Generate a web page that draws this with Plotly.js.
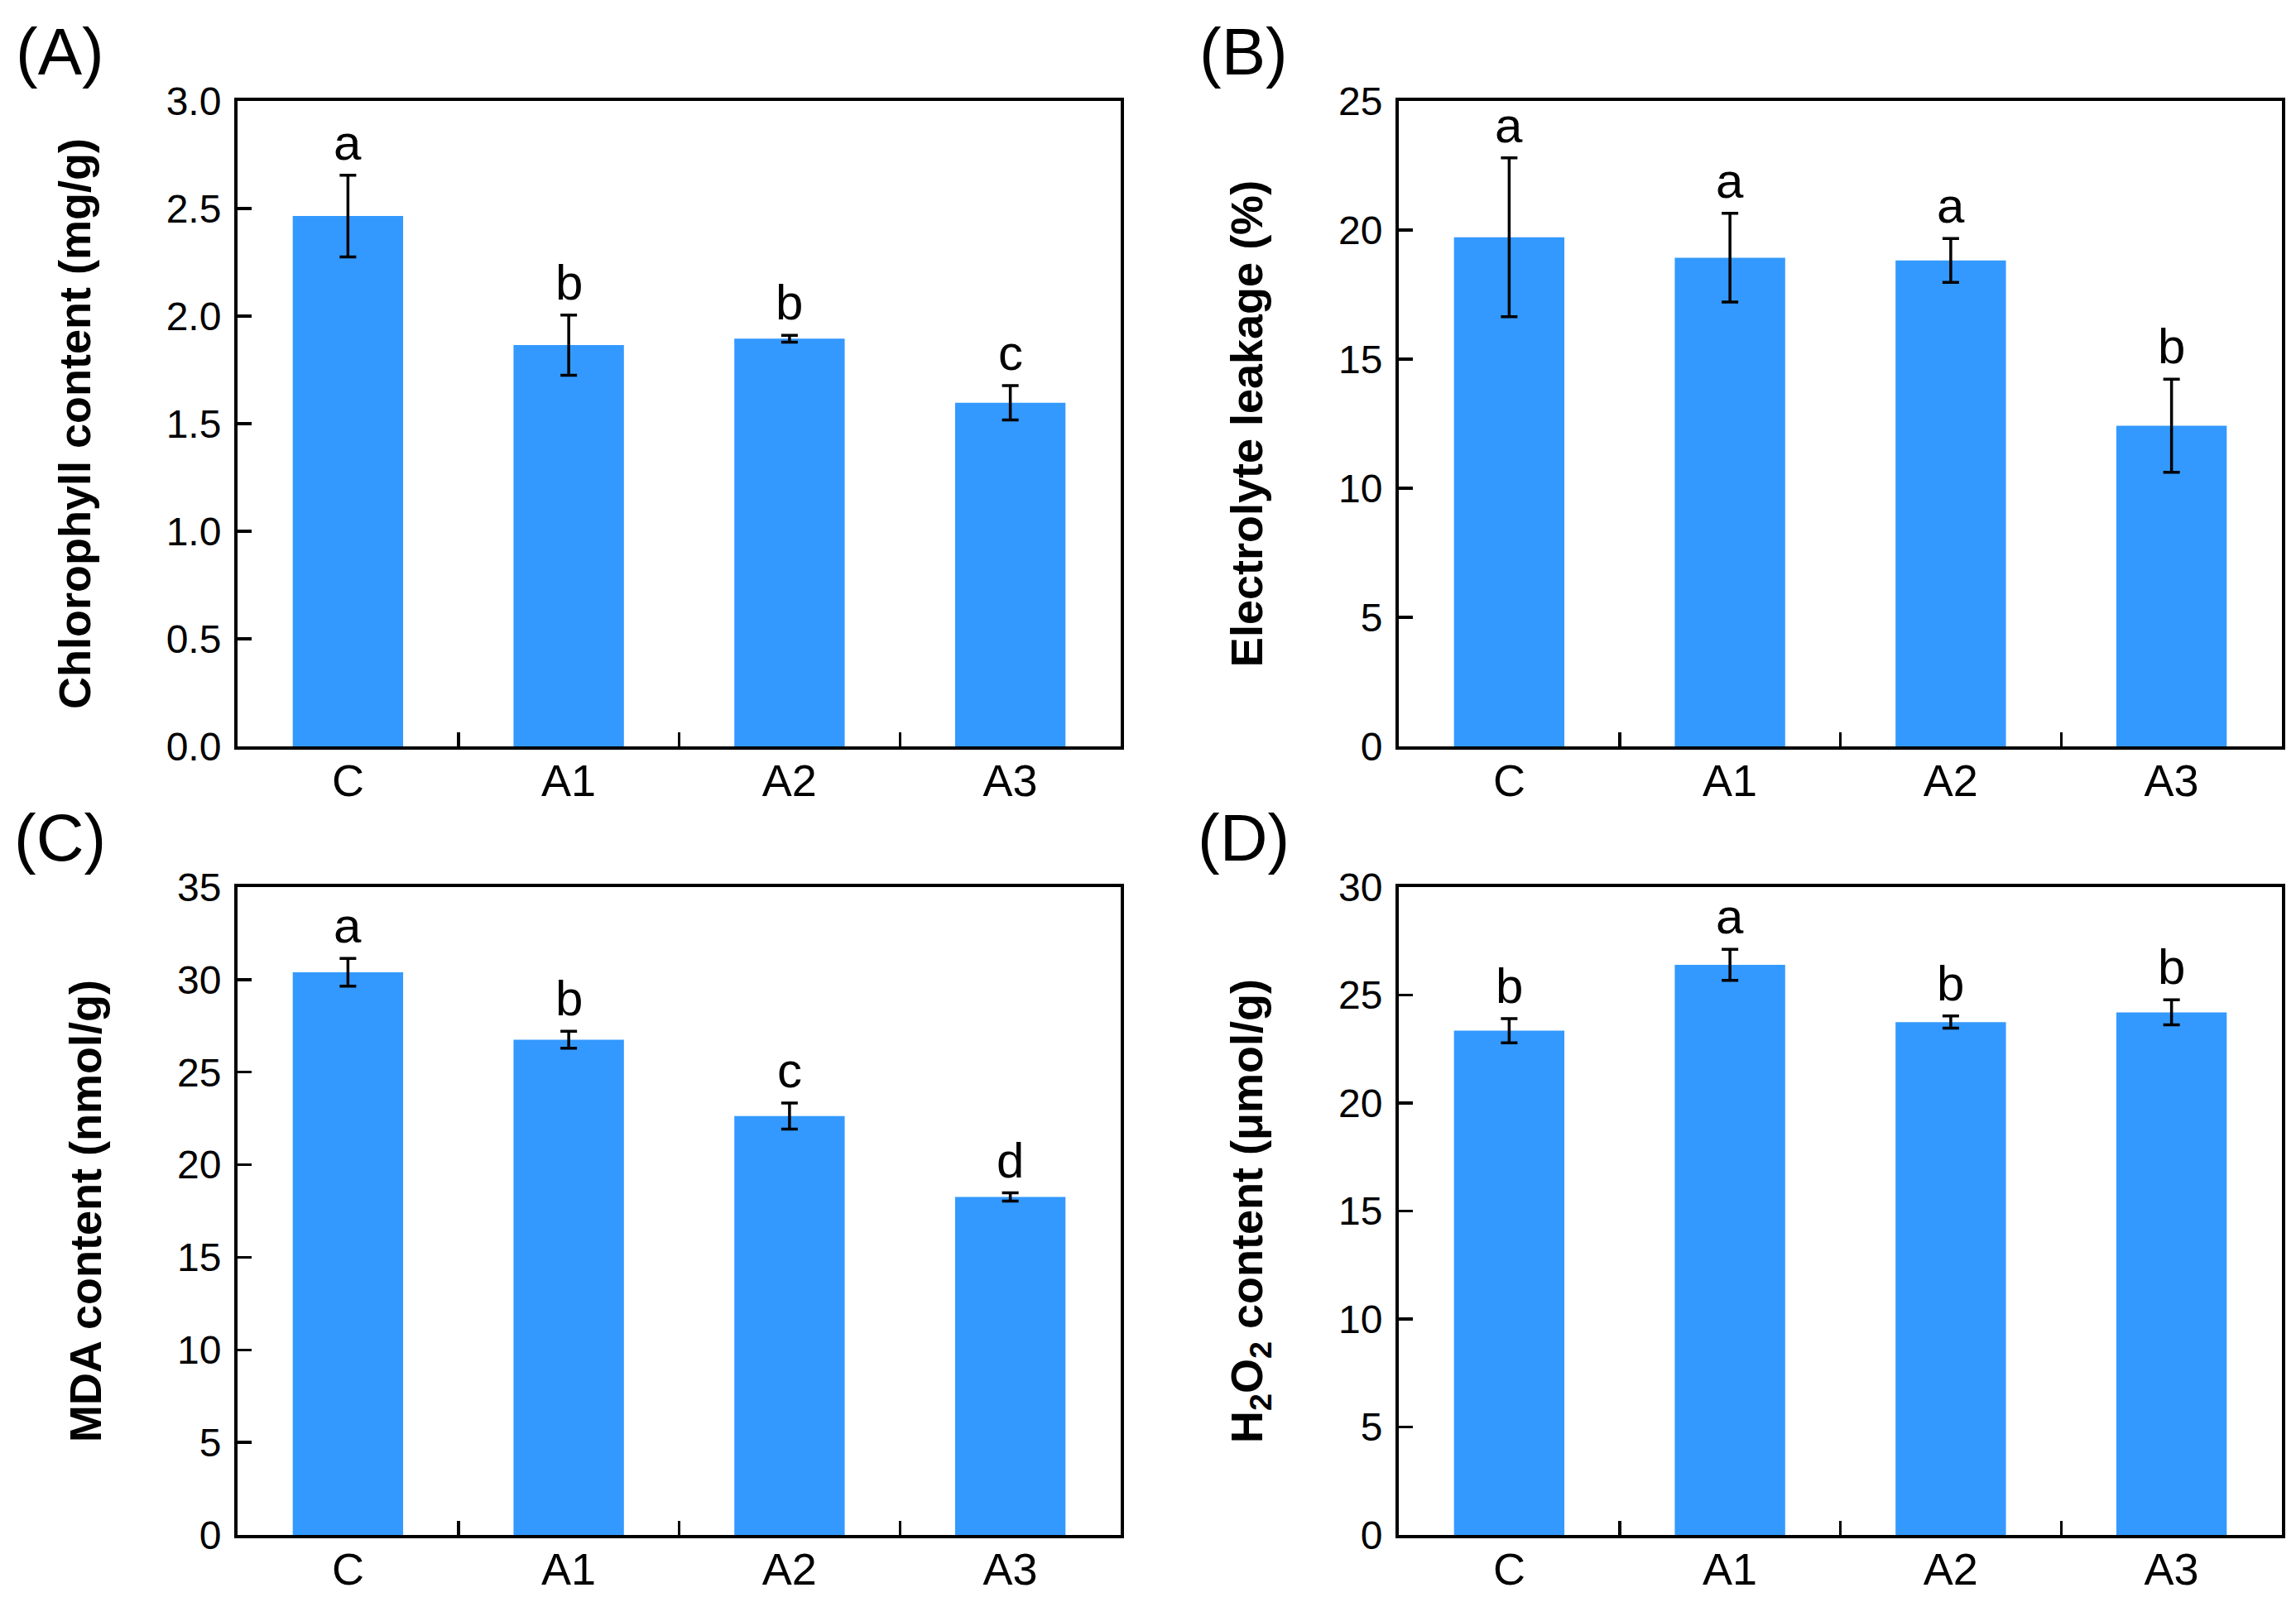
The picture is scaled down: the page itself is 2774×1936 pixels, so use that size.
<!DOCTYPE html>
<html>
<head>
<meta charset="utf-8">
<script src="https://cdn.plot.ly/plotly-3.0.1.min.js"></script>
<style>html,body{margin:0;padding:0;background:#fff;}#chart{width:2774px;height:1936px;}</style>
</head>
<body>
<div id="chart"></div>
<script>
// ---- data ----
const categories = ["C", "A1", "A2", "A3"];

const chlorophyll = [2.465, 1.865, 1.895, 1.597];
const chlorophyllErr = [0.19, 0.14, 0.016, 0.08];
const chlorophyllLetters = ["a", "b", "b", "c"];

const electrolyte = [19.72, 18.93, 18.82, 12.42];
const electrolyteErr = [3.08, 1.72, 0.85, 1.8];
const electrolyteLetters = ["a", "a", "a", "b"];

const mda = [30.4, 26.75, 22.63, 18.26];
const mdaErr = [0.75, 0.46, 0.7, 0.22];
const mdaLetters = ["a", "b", "c", "d"];

const h2o2 = [23.35, 26.4, 23.75, 24.2];
const h2o2Err = [0.56, 0.72, 0.28, 0.58];
const h2o2Letters = ["b", "a", "b", "b"];

const panelLabels = ["(A)", "(B)", "(C)", "(D)"];
const yTitles = ["Chlorophyll content (mg/g)", "Electrolyte leakage (%)",
                 "MDA content (nmol/g)", "H<sub>2</sub>O<sub>2</sub> content (\u03bcmol/g)"];
const yRanges = [[0, 3], [0, 25], [0, 35], [0, 30]];
const yDticks = [0.5, 5, 5, 5];
const yFormats = [".1f", "d", "d", "d"];

// ---- style ----
const FONT = "Liberation Sans, Arial, sans-serif";
const BAR_COLOR = "#3399ff";
const W = 2774, H = 1936;
const xDomains = [[287 / W, 1354 / W], [1690 / W, 2757 / W], [287 / W, 1354 / W], [1690 / W, 2757 / W]];
const yDomains = [[1 - 902 / H, 1 - 122 / H], [1 - 902 / H, 1 - 122 / H], [1 - 1855 / H, 1 - 1072 / H], [1 - 1855 / H, 1 - 1072 / H]];

const series = [
  {v: chlorophyll, e: chlorophyllErr, l: chlorophyllLetters},
  {v: electrolyte, e: electrolyteErr, l: electrolyteLetters},
  {v: mda, e: mdaErr, l: mdaLetters},
  {v: h2o2, e: h2o2Err, l: h2o2Letters}
];

const traces = [];
const layout = {
  width: W, height: H,
  margin: {l: 0, r: 0, t: 0, b: 0},
  paper_bgcolor: "#fff", plot_bgcolor: "#fff",
  showlegend: false,
  font: {family: FONT, color: "#000"},
  annotations: []
};

series.forEach((s, i) => {
  const n = i + 1;
  const xa = "x" + (n === 1 ? "" : n);
  const ya = "y" + (n === 1 ? "" : n);
  traces.push({
    type: "bar", x: categories, y: s.v,
    xaxis: xa, yaxis: ya,
    width: 0.5,
    marker: {color: BAR_COLOR, line: {width: 0}},
    error_y: {type: "data", array: s.e, visible: true, color: "#000", thickness: 3.5, width: 10},
    hoverinfo: "skip"
  });
  layout["xaxis" + (n === 1 ? "" : n)] = {
    domain: xDomains[i], anchor: ya, type: "category",
    range: [-0.5, 3.5],
    tickson: "boundaries", ticks: "inside", ticklen: 17, tickwidth: 3.5, tickcolor: "#000",
    showline: true, linecolor: "#000", linewidth: 4, mirror: true,
    showgrid: false, zeroline: false, fixedrange: true,
    tickfont: {family: FONT, size: 54, color: "#000"},
    ticklabelstandoff: -9
  };
  layout["yaxis" + (n === 1 ? "" : n)] = {
    domain: yDomains[i], anchor: xa,
    range: yRanges[i], dtick: yDticks[i], tick0: 0, tickformat: yFormats[i],
    ticks: "inside", ticklen: 17, tickwidth: 3.5, tickcolor: "#000",
    showline: true, linecolor: "#000", linewidth: 4, mirror: true,
    showgrid: false, zeroline: false, fixedrange: true,
    tickfont: {family: FONT, size: 48, color: "#000"},
    ticklabelstandoff: 6,
    automargin: false,
    title: {text: yTitles[i], font: {family: FONT, size: 54, color: "#000", weight: "bold"}, standoff: 75}
  };
  s.v.forEach((val, k) => {
    layout.annotations.push({
      xref: xa, yref: ya, x: categories[k], y: val + s.e[k],
      text: s.l[k], showarrow: false, yanchor: "bottom", yshift: 4,
      font: {family: FONT, size: 60, color: "#000"}
    });
  });
});

const panelPos = [[72, 62], [1502, 62], [72, 1012], [1502, 1012]];
panelLabels.forEach((t, i) => {
  layout.annotations.push({
    xref: "paper", yref: "paper",
    x: panelPos[i][0] / W, y: 1 - panelPos[i][1] / H,
    text: t, showarrow: false, xanchor: "center", yanchor: "middle",
    font: {family: FONT, size: 80, color: "#000"}
  });
});

Plotly.newPlot("chart", traces, layout, {staticPlot: true, displayModeBar: false});
</script>
</body>
</html>
